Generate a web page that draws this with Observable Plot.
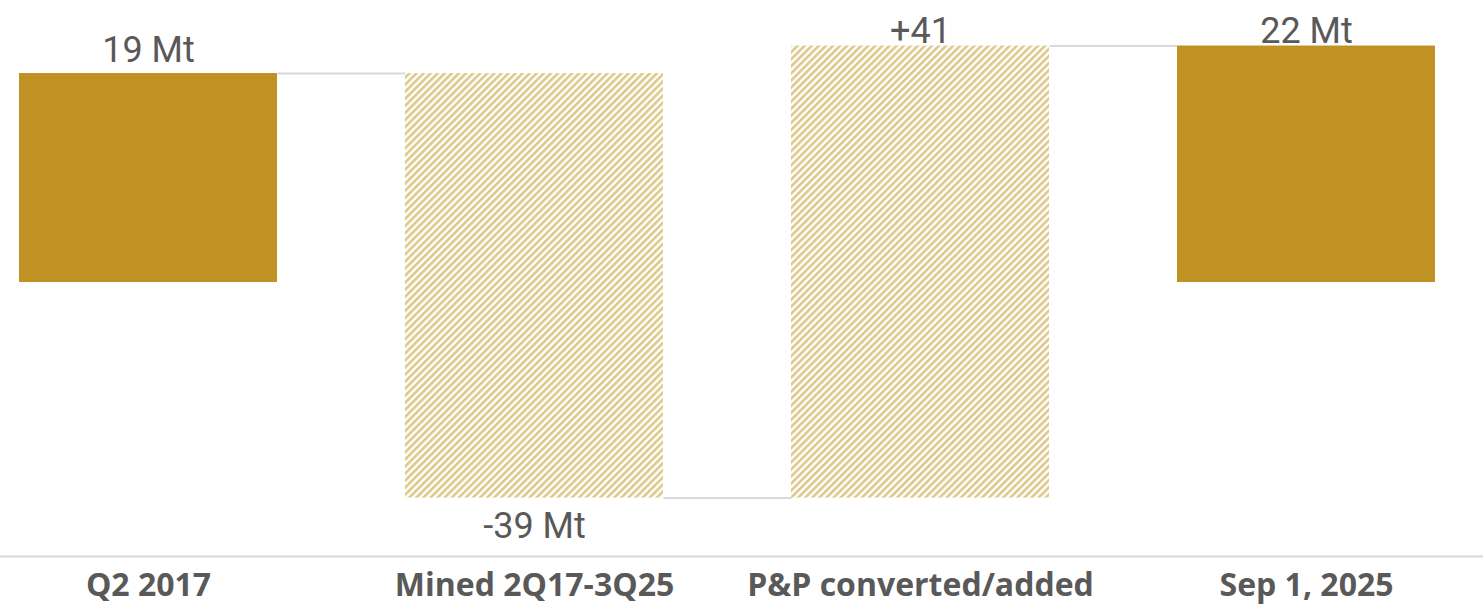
<!DOCTYPE html>
<html>
<head>
<meta charset="utf-8">
<script src="https://cdn.jsdelivr.net/npm/d3@7"></script>
<script src="https://cdn.jsdelivr.net/npm/@observablehq/plot@0.6"></script>
<style>
  html, body { margin: 0; padding: 0; background: #ffffff; }
  #chart svg { display: block; }
</style>
</head>
<body>
<div id="chart"></div>
<script>
// ---- data ----
const categories = ["Q2 2017", "Mined 2Q17-3Q25", "P&P converted/added", "Sep 1, 2025"];
const values = [19, -38.6, 41.1, 21.5];          // totals for first/last, changes in between
const kinds = ["total", "delta", "delta", "total"];
const valueLabels = ["19 Mt", "-39 Mt", "+41", "22 Mt"];

// ---- build waterfall rows ----
let running = 0;
const rows = categories.map((cat, i) => {
  let y1, y2;
  if (kinds[i] === "total") { y1 = 0; y2 = values[i]; running = values[i]; }
  else { y1 = running; y2 = running + values[i]; running = y2; }
  return {cat, y1, y2, kind: kinds[i], label: valueLabels[i], neg: values[i] < 0,
          top: Math.max(y1, y2), bottom: Math.min(y1, y2), end: y2};
});
const connectors = rows.slice(0, -1).map((r, i) => ({from: r.cat, to: rows[i + 1].cat, level: r.end}));

const yMin = -24.91, yMax = 25.64;
const gold = "#C09224";
const textGray = "#595959";
const lineGray = "#d9d9d9";

const base = {
  width: 1483,
  height: 613,
  marginLeft: 0,
  marginRight: 0,
  marginTop: 0,
  marginBottom: 57,
  style: {fontFamily: "Roboto, 'Liberation Sans', sans-serif", background: "#ffffff"},
  x: {domain: categories, paddingInner: 0.332, paddingOuter: 0.0466, insetRight: 30, label: null},
  y: {domain: [yMin, yMax], axis: null}
};

// probe pass to read the band geometry from the x scale
const probe = Plot.plot({...base, marks: [Plot.barY(rows, {x: "cat", y1: "y1", y2: "y2"})]});
const xs = probe.scale("x");
const bw = xs.bandwidth, step = xs.step;
const dash = `0 ${bw / 2} ${step - bw} ${step * 2}`;

const highLabel = (d) => d.top > 20;

const chart = Plot.plot({
  ...base,
  marks: [
    Plot.link(connectors, {x1: "from", x2: "to", y1: "level", y2: "level", stroke: lineGray, strokeWidth: 2,
      strokeDasharray: dash}),
    Plot.barY(rows.filter(d => d.kind === "total"), {x: "cat", y1: "y1", y2: "y2", fill: gold}),
    Plot.barY(rows.filter(d => d.kind === "delta"), {x: "cat", y1: "y1", y2: "y2", fill: "url(#hatch)"}),
    Plot.text(rows.filter(d => !d.neg && !highLabel(d)), {x: "cat", y: "top", text: "label", lineAnchor: "bottom",
      dy: -12, fontSize: 36, fill: textGray}),
    Plot.text(rows.filter(d => !d.neg && highLabel(d)), {x: "cat", y: "top", text: "label", lineAnchor: "bottom",
      dy: -3, fontSize: 36, fill: textGray}),
    Plot.text(rows.filter(d => d.neg), {x: "cat", y: "bottom", text: "label", lineAnchor: "top", dy: 14,
      fontSize: 36, fill: textGray}),
    Plot.ruleY([yMin], {stroke: lineGray, strokeWidth: 2}),
    Plot.axisX({tickSize: 0, tickPadding: 17, fontSize: 32, fontWeight: "bold", fill: textGray,
      fontFamily: "'Liberation Sans Narrow', 'Open Sans', sans-serif", label: null})
  ]
});

// hatch pattern definition
const svg = d3.select(chart);
const defs = svg.insert("defs", ":first-child");
const pat = defs.append("pattern")
  .attr("id", "hatch")
  .attr("patternUnits", "userSpaceOnUse")
  .attr("width", 5).attr("height", 5)
  .attr("patternTransform", "rotate(45)");
pat.append("rect").attr("width", 5).attr("height", 5).attr("fill", "#ffffff");
pat.append("rect").attr("width", 2.6).attr("height", 5).attr("fill", "#dcc98a");

document.getElementById("chart").appendChild(chart);
</script>
</body>
</html>
